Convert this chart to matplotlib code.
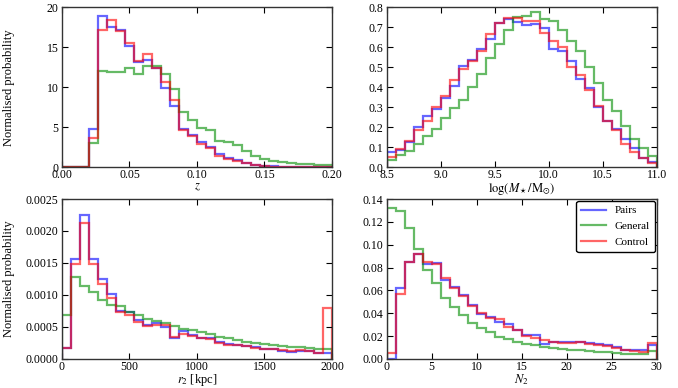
import numpy as np
import matplotlib
matplotlib.use("Agg")
import matplotlib.pyplot as plt
from matplotlib.ticker import FormatStrFormatter, MultipleLocator

# ---------------- data ----------------
series_names = ["Pairs", "General", "Control"]

z_range = (0.0, 0.2)
z_pairs = [0, 0, 0, 4.8, 18.9, 17.5, 17.2, 15.1, 13.1, 13.35, 12.4, 9.9, 7.7, 4.8, 4.0,
           3.1, 2.5, 1.6, 1.15, 0.95, 0.55, 0.3, 0.2, 0.12, 0.08, 0.03, 0.02, 0.01, 0.0, 0.0]
z_general = [0, 0, 0, 3.0, 12.05, 11.85, 11.85, 12.45, 11.6, 12.6, 12.7, 11.7, 9.8, 6.9, 5.86,
             4.86, 4.7, 3.25, 3.1, 2.75, 2.0, 1.45, 1.05, 0.83, 0.66, 0.54, 0.46, 0.37, 0.3, 0.25]
z_control = [0, 0, 0, 3.7, 17.1, 18.35, 17.0, 15.5, 13.3, 14.2, 12.4, 10.7, 8.35, 4.7, 3.87,
             2.9, 2.45, 1.45, 1.05, 0.8, 0.5, 0.25, 0.12, 0.08, 0.04, 0.02, 0.01, 0.0, 0.0, 0.0]

m_range = (8.5, 11.0)
m_pairs = [0.075, 0.088, 0.126, 0.200, 0.255, 0.291, 0.344, 0.408, 0.504, 0.537, 0.591, 0.641,
           0.720, 0.742, 0.725, 0.712, 0.717, 0.698, 0.590, 0.580, 0.530, 0.440, 0.395, 0.300,
           0.230, 0.190, 0.140, 0.097, 0.045, 0.027]
m_general = [0.038, 0.060, 0.083, 0.115, 0.158, 0.191, 0.246, 0.296, 0.338, 0.401, 0.467, 0.544,
             0.616, 0.687, 0.750, 0.757, 0.778, 0.742, 0.733, 0.687, 0.633, 0.579, 0.502, 0.420,
             0.338, 0.283, 0.205, 0.141, 0.096, 0.055]
m_control = [0.052, 0.093, 0.131, 0.188, 0.233, 0.301, 0.358, 0.436, 0.491, 0.531, 0.579, 0.666,
             0.720, 0.745, 0.745, 0.732, 0.732, 0.670, 0.632, 0.600, 0.500, 0.462, 0.385, 0.305,
             0.230, 0.185, 0.115, 0.078, 0.045, 0.022]

r_range = (0.0, 2000.0)
r_pairs = [0.00017, 0.00156, 0.00225, 0.00156, 0.00125, 0.00102, 0.00075, 0.00073, 0.00061, 0.00053,
           0.00056, 0.00050, 0.00032, 0.00043, 0.00037, 0.00032, 0.00032, 0.00027, 0.00023, 0.00022,
           0.00020, 0.00018, 0.00016, 0.00015, 0.00013, 0.00011, 0.00013, 0.00012, 0.00010, 0.00009]
r_general = [0.00069, 0.00128, 0.00114, 0.00104, 0.00092, 0.00085, 0.00082, 0.00074, 0.00069, 0.00063,
             0.00059, 0.00056, 0.00051, 0.00046, 0.00045, 0.00042, 0.00039, 0.00034, 0.00033, 0.00029,
             0.00027, 0.00025, 0.00023, 0.00022, 0.00020, 0.00019, 0.00019, 0.00017, 0.00016, 0.00015]
r_control = [0.00017, 0.00149, 0.00213, 0.00149, 0.00117, 0.00095, 0.00074, 0.00069, 0.00058, 0.00051,
             0.00053, 0.00053, 0.00034, 0.00039, 0.00036, 0.00032, 0.00031, 0.00025, 0.00022, 0.00021,
             0.00020, 0.00017, 0.00015, 0.00015, 0.00014, 0.00013, 0.00014, 0.00012, 0.00010, 0.00079]

n_range = (0, 30)
n_pairs = [0.0, 0.062, 0.085, 0.092, 0.083, 0.0836, 0.069, 0.063, 0.056, 0.047, 0.0395, 0.0369,
           0.0325, 0.0308, 0.0253, 0.0209, 0.0209, 0.0131, 0.0151, 0.0145, 0.0145, 0.0151, 0.0142,
           0.0128, 0.0122, 0.0105, 0.0081, 0.0076, 0.0081, 0.0122]
n_general = [0.132, 0.1295, 0.115, 0.0964, 0.078, 0.0665, 0.0537, 0.0456, 0.0383, 0.0317, 0.0267,
             0.0232, 0.0195, 0.0171, 0.0151, 0.0134, 0.0122, 0.0105, 0.0093, 0.0087, 0.0081, 0.0078,
             0.0070, 0.0064, 0.0061, 0.0052, 0.0046, 0.0044, 0.0041, 0.0070]
n_control = [0.0052, 0.057, 0.085, 0.092, 0.085, 0.083, 0.071, 0.062, 0.055, 0.046, 0.040, 0.0354,
             0.035, 0.0282, 0.0253, 0.0203, 0.018, 0.0166, 0.0145, 0.0139, 0.0139, 0.0151, 0.0131,
             0.0122, 0.0110, 0.0099, 0.0081, 0.0073, 0.0064, 0.0139]

# ---------------- style ----------------
plt.rcParams['font.family'] = ['Liberation Serif', 'DejaVu Serif']
plt.rcParams['mathtext.fontset'] = 'stix'
plt.rcParams['font.size'] = 8.5
plt.rcParams['xtick.direction'] = 'in'
plt.rcParams['ytick.direction'] = 'in'
plt.rcParams['xtick.top'] = True
plt.rcParams['ytick.right'] = True
plt.rcParams['xtick.major.size'] = 4
plt.rcParams['ytick.major.size'] = 4
plt.rcParams['axes.linewidth'] = 1.0
plt.rcParams['axes.edgecolor'] = '#333333'
plt.rcParams['xtick.major.pad'] = 1.5
plt.rcParams['ytick.major.pad'] = 2.5

colors = [(0, 0, 1), (0, 0.55, 0), (1, 0, 0)]
alpha = 0.6
lw = 1.6

fig, axes = plt.subplots(2, 2, figsize=(6.78, 3.88), dpi=100)
fig.subplots_adjust(left=0.0914, right=0.9686, top=0.9812, bottom=0.075,
                    wspace=0.2026, hspace=0.199)

panels = [
    (axes[0, 0], z_range, [z_pairs, z_general, z_control], (0, 20), 5, '%d', 0.05, '%.2f', r'$z$'),
    (axes[0, 1], m_range, [m_pairs, m_general, m_control], (0, 0.8), 0.1, '%.1f', 0.5, '%.1f',
     r'$\log(M_\star/\mathrm{M}_{\odot})$'),
    (axes[1, 0], r_range, [r_pairs, r_general, r_control], (0, 0.0025), 0.0005, '%.4f', 500, '%d',
     r'$r_2$ [kpc]'),
    (axes[1, 1], n_range, [n_pairs, n_general, n_control], (0, 0.14), 0.02, '%.2f', 5, '%d', r'$N_2$'),
]

for ax, xr, vals, ylim, ystep, yfmt, xstep, xfmt, xlabel in panels:
    nb = len(vals[0])
    edges = np.linspace(xr[0], xr[1], nb + 1)
    for v, c, name in zip(vals, colors, series_names):
        ax.stairs(v, edges, baseline=0, fill=False, color=c, alpha=alpha, lw=lw, label=name)
    ax.set_xlim(xr)
    ax.set_ylim(ylim)
    ax.yaxis.set_major_locator(MultipleLocator(ystep))
    ax.yaxis.set_major_formatter(FormatStrFormatter(yfmt))
    ax.xaxis.set_major_locator(MultipleLocator(xstep))
    ax.xaxis.set_major_formatter(FormatStrFormatter(xfmt))
    ax.set_xlabel(xlabel, labelpad=-0.5, fontsize=9)

for ax in (axes[0, 0], axes[1, 0]):
    ax.set_ylabel('Normalised probability', fontsize=9)
    ax.yaxis.set_label_coords(-0.174, 0.5)

leg = axes[1, 1].legend(loc='upper right', fancybox=True, framealpha=1, edgecolor='black',
                        handlelength=2.2, handleheight=0.7, borderpad=0.45, labelspacing=0.55,
                        handletextpad=0.8, borderaxespad=0.15, fontsize=8)
leg.get_frame().set_linewidth(1.0)

fig.savefig('out.png', dpi=100)
